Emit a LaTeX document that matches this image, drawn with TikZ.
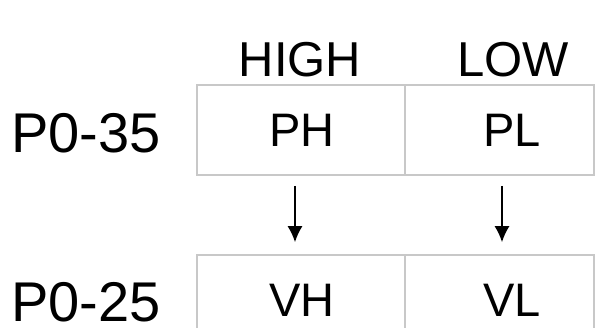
\documentclass[tikz,border=0pt]{standalone}
\usepackage{fontspec}
\setmainfont{Liberation Sans}
\usetikzlibrary{arrows.meta,positioning,calc}
\definecolor{cellgray}{RGB}{200,200,200}

\begin{document}
\begin{tikzpicture}[x=1pt,y=-1pt,
  cell/.style={draw=cellgray, line width=1.6pt, inner sep=0pt, minimum height=90pt},
  val/.style={anchor=base, inner sep=0pt, font=\fontsize{47}{47}\selectfont},
  head/.style={anchor=base, inner sep=0pt, font=\fontsize{49}{49}\selectfont},
  reg/.style={anchor=base west, inner sep=0pt, font=\fontsize{56}{56}\selectfont}]
\useasboundingbox (0,0) rectangle (606,328);
% column headers
\node[head] (high) at (300,77) {HIGH};
\node[head] (low) at (513,77) {LOW};
% register labels
\node[reg] (p35) at (11,153) {P0-35};
\node[reg] (p25) at (11,322) {P0-25};
% cells
\node[cell, minimum width=208pt] (ph) at (301,130) {};
\node[cell, minimum width=189pt] (pl) at (499.5,130) {};
\node[cell, minimum width=208pt] (vh) at (301,300) {};
\node[cell, minimum width=189pt] (vl) at (499.5,300) {};
\node[val] (phtxt) at (302,147) {PH};
\node[val] (pltxt) at (512,147) {PL};
\node[val] (vhtxt) at (302,317) {VH};
\node[val] (vltxt) at (512,317) {VL};
% arrows
\draw[-{Latex[length=16pt,width=15pt]}, line width=1.6pt] ($(ph.south)+(-6,10)$) -- ($(vh.north)+(-6,-12)$);
\draw[-{Latex[length=16pt,width=15pt]}, line width=1.6pt] ($(pl.south)+(2.5,10)$) -- ($(vl.north)+(2.5,-12)$);
\end{tikzpicture}
\end{document}
